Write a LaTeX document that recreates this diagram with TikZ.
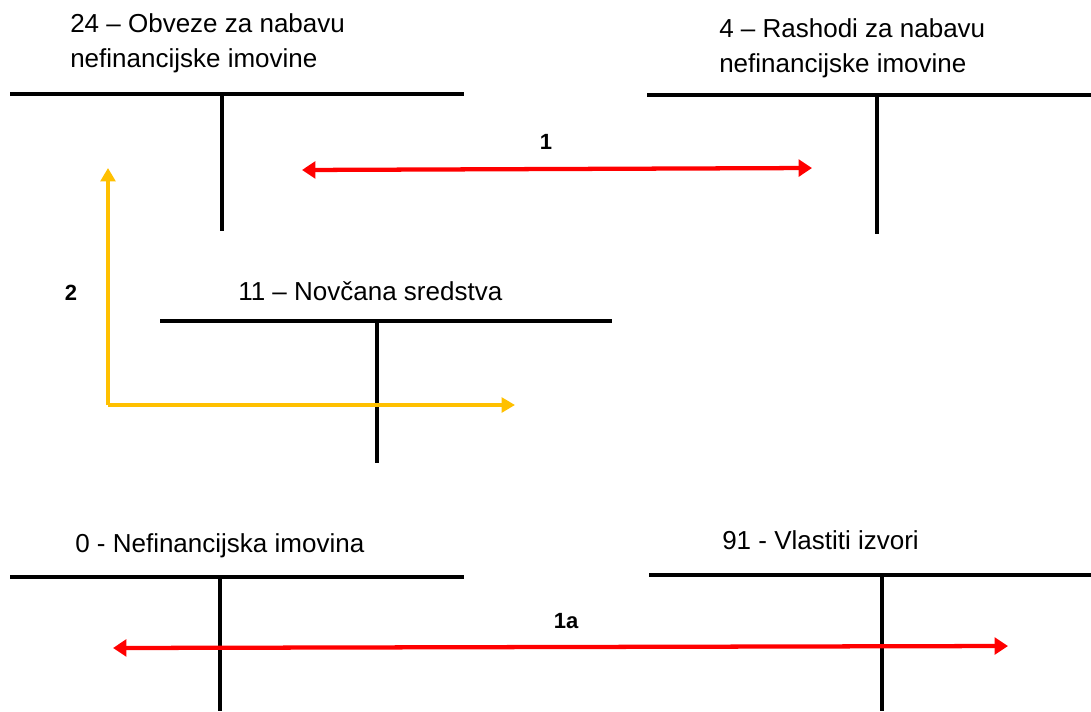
\documentclass[tikz,border=0pt]{standalone}
\usepackage{fontspec}
\setmainfont{Liberation Sans}
\usetikzlibrary{arrows.meta}
\definecolor{arrred}{RGB}{255,0,0}
\definecolor{arryel}{RGB}{255,192,0}
\begin{document}
\begin{tikzpicture}[x=0.75pt,y=-0.75pt,
  tline/.style={line width=3pt,black},
  title/.style={font=\fontsize{19.5}{26}\selectfont,inner sep=0pt,align=left},
  lbl/.style={font=\fontsize{16.5}{18}\selectfont\bfseries,inner sep=0pt},
  redarr/.style={line width=3.2pt,arrred,{Triangle[length=10pt,width=12.5pt]}-{Triangle[length=10pt,width=12.5pt]}},
  yelarr/.style={line width=2.6pt,arryel,-{Triangle[length=10pt,width=11pt]}}]
\useasboundingbox (0,0) rectangle (1091,711);
% T-account 24
\coordinate (a1) at (10,94); \coordinate (a2) at (464,94);
\coordinate (a3) at (222,94); \coordinate (a4) at (222,231);
\draw[tline] (a1) -- (a2); \draw[tline] (a3) -- (a4);
\node[title,anchor=base west] (t24) at (70,67) {24 – Obveze za nabavu\\nefinancijske imovine};
% T-account 4
\coordinate (b1) at (647,95); \coordinate (b2) at (1091,95);
\coordinate (b3) at (877,95); \coordinate (b4) at (877,234);
\draw[tline] (b1) -- (b2); \draw[tline] (b3) -- (b4);
\node[title,anchor=base west] (t4) at (719,72) {4 – Rashodi za nabavu\\nefinancijske imovine};
% T-account 11
\coordinate (c1) at (160,321); \coordinate (c2) at (612,321);
\coordinate (c3) at (377,321); \coordinate (c4) at (377,463);
\draw[tline] (c1) -- (c2); \draw[tline] (c3) -- (c4);
\node[title,anchor=base west] (t11) at (238,300) {11 – Novčana sredstva};
% T-account 0
\coordinate (d1) at (10,577); \coordinate (d2) at (464,577);
\coordinate (d3) at (220,577); \coordinate (d4) at (220,711);
\draw[tline] (d1) -- (d2); \draw[tline] (d3) -- (d4);
\node[title,anchor=base west] (t0) at (75,552) {0 - Nefinancijska imovina};
% T-account 91
\coordinate (e1) at (649,575); \coordinate (e2) at (1091,575);
\coordinate (e3) at (882,575); \coordinate (e4) at (882,711);
\draw[tline] (e1) -- (e2); \draw[tline] (e3) -- (e4);
\node[title,anchor=base west] (t91) at (722,549) {91 - Vlastiti izvori};
% arrow 1
\coordinate (r1a) at (302,170); \coordinate (r1b) at (812,168);
\draw[redarr] (r1a) -- (r1b);
\node[lbl] (l1) at (546,142) {1};
% arrow 2
\coordinate (y1) at (108,168); \coordinate (y2) at (108,405); \coordinate (y3) at (515,405);
\draw[yelarr] (y2) -- (y1);
\draw[yelarr] (y2) -- (y3);
\node[lbl] (l2) at (71,293) {2};
% arrow 1a
\coordinate (r2a) at (113,648); \coordinate (r2b) at (1008,646);
\draw[redarr] (r2a) -- (r2b);
\node[lbl] (l1a) at (566,621) {1a};
\end{tikzpicture}
\end{document}
